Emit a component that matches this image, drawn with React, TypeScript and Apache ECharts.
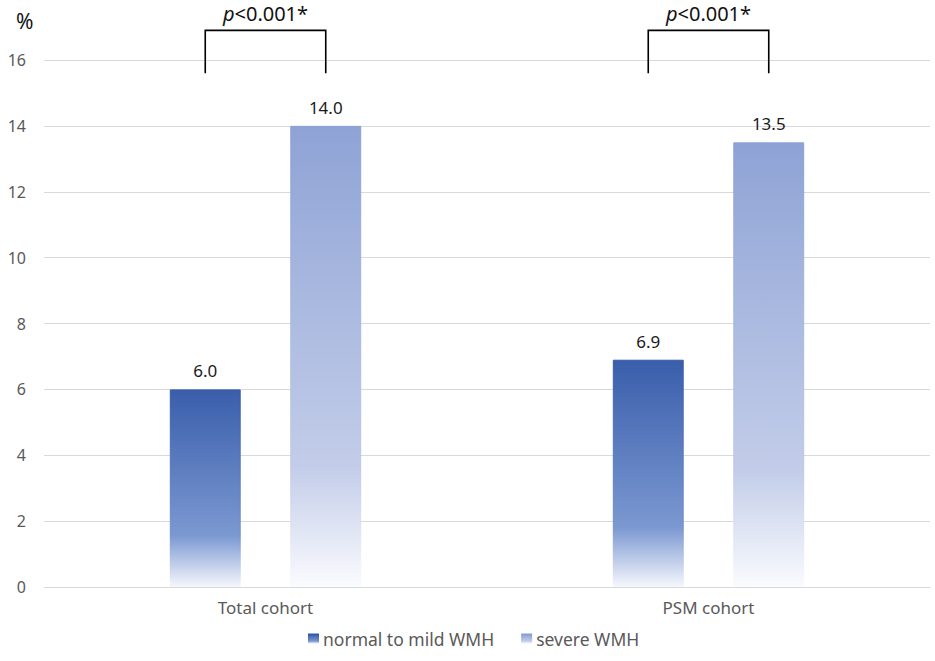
import React, { useEffect, useRef } from "react";
import * as echarts from "echarts";

const categories = ["Total cohort", "PSM cohort"];
const mildValues = [6.0, 6.9];
const severeValues = [14.0, 13.5];
const seriesNames = ["normal to mild WMH", "severe WMH"];
const pLabels = ["p<0.001*", "p<0.001*"];
const yTicks = { min: 0, max: 16, interval: 2 };
const bracketTop = 16.9;
const bracketBottom = 15.6;
const bracketText = 17.4;

const BAR_W = 0.16;
const BAR_GAP = 0.7;

export default function App() {
  const ref = useRef<HTMLDivElement>(null);
  useEffect(() => {
    const chart = echarts.init(ref.current!, undefined, { renderer: "svg" });
    const font = "'Noto Sans', 'Open Sans', sans-serif";
    const grad = (a: string, b: string, c: string) =>
      new echarts.graphic.LinearGradient(0, 0, 0, 1, [
        { offset: 0, color: a },
        { offset: 0.74, color: b },
        { offset: 1, color: c },
      ]);
    const labelCfg = {
      show: true,
      position: "top",
      distance: 10,
      color: "#1a1a1a",
      fontSize: 17,
      fontFamily: font,
      formatter: (p: any) => Number(p.value).toFixed(1),
    };
    chart.setOption({
      animation: false,
      title: {
        text: "%",
        left: 11,
        top: 5,
        textStyle: { fontSize: 21, fontWeight: "normal", color: "#111", fontFamily: font },
      },
      grid: { left: 44, right: 5, top: 60, bottom: 74 },
      legend: {
        bottom: 8,
        left: 303,
        itemWidth: 9,
        itemHeight: 9,
        itemGap: 27,
        icon: "rect",
        data: seriesNames,
        textStyle: { fontSize: 17.5, color: "#595959", fontFamily: font },
      },
      xAxis: {
        type: "category",
        data: categories,
        axisLine: { lineStyle: { color: "#d9d9d9", width: 1 } },
        axisTick: { show: false },
        axisLabel: { color: "#595959", fontSize: 17, fontFamily: font, margin: 12 },
      },
      yAxis: {
        type: "value",
        min: yTicks.min,
        max: yTicks.max,
        interval: yTicks.interval,
        axisLine: { show: false },
        axisTick: { show: false },
        splitLine: { lineStyle: { color: "#d9d9d9", width: 1 } },
        axisLabel: { color: "#595959", fontSize: 16, fontFamily: font, margin: 18 },
      },
      series: [
        {
          name: seriesNames[0],
          type: "bar",
          data: mildValues,
          barWidth: BAR_W * 100 + "%",
          barGap: BAR_GAP * 100 + "%",
          itemStyle: {
            color: grad("#3a5eab", "#7b98d1", "#f4f6fc"),
            borderColor: grad("#3259a8", "#7391cc", "#f4f6fc"),
            borderWidth: 1,
          },
          label: labelCfg,
        },
        {
          name: seriesNames[1],
          type: "bar",
          data: severeValues,
          barWidth: BAR_W * 100 + "%",
          barGap: BAR_GAP * 100 + "%",
          itemStyle: {
            color: grad("#8ea3d5", "#c3cde9", "#fafbfe"),
            borderColor: grad("#889fd4", "#bcc8e7", "#fafbfe"),
            borderWidth: 1,
          },
          label: labelCfg,
        },
        {
          type: "custom",
          clip: false,
          silent: true,
          data: categories.map((_, i) => [i, bracketTop, bracketBottom, bracketText]),
          renderItem: (params: any, api: any) => {
            const idx = api.value(0);
            const band = api.size([1, 0])[0];
            const off = (band * BAR_W * (1 + BAR_GAP)) / 2;
            const c = api.coord([idx, api.value(1)]);
            const b = api.coord([idx, api.value(2)]);
            const t = api.coord([idx, api.value(3)]);
            const xl = c[0] - off;
            const xr = c[0] + off;
            return {
              type: "group",
              children: [
                {
                  type: "polyline",
                  shape: { points: [[xl, b[1]], [xl, c[1]], [xr, c[1]], [xr, b[1]]] },
                  style: { stroke: "#000", lineWidth: 1.6, fill: "none" },
                },
                {
                  type: "text",
                  x: t[0],
                  y: t[1],
                  style: {
                    text: "{i|p}{n|" + pLabels[params.dataIndex].slice(1) + "}",
                    align: "center",
                    verticalAlign: "middle",
                    rich: {
                      i: { fontSize: 20, fontStyle: "italic", fontFamily: font, fill: "#111" },
                      n: { fontSize: 20, fontFamily: font, fill: "#111" },
                    },
                  },
                },
              ],
            };
          },
        },
      ],
    });
    return () => chart.dispose();
  }, []);
  return (
    <div
      ref={ref}
      style={{ position: "absolute", left: 0, top: 0, width: 935, height: 661, background: "#fff" }}
    />
  );
}
